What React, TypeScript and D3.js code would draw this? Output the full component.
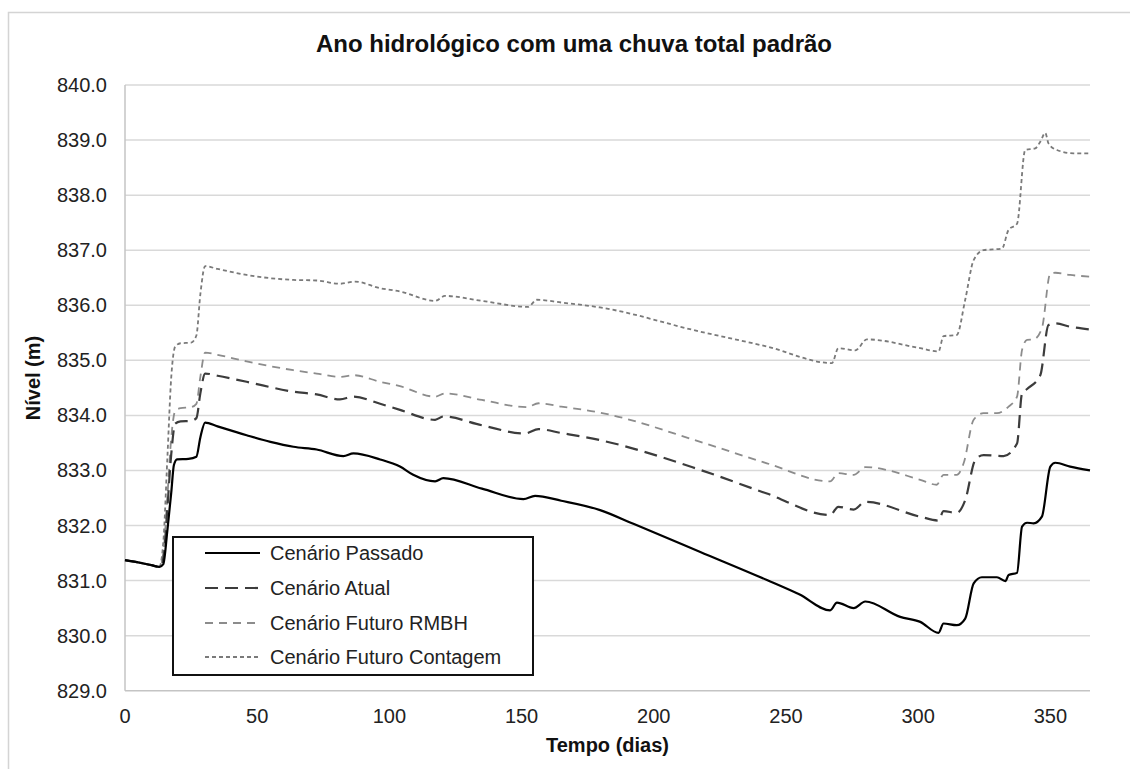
import React from "react";
import * as d3 from "d3";

const title = "Ano hidrológico com uma chuva total padrão";
const xTitle = "Tempo (dias)";
const yTitle = "Nível (m)";
const xTicks = [0, 50, 100, 150, 200, 250, 300, 350];
const yTicks = [829, 830, 831, 832, 833, 834, 835, 836, 837, 838, 839, 840];
const seriesNames = ["Cenário Passado", "Cenário Atual", "Cenário Futuro RMBH", "Cenário Futuro Contagem"];

const passado: [number, number][] = [
  [0, 831.37], [5, 831.33], [10, 831.28], [13, 831.25], [14.5, 831.3], [16, 831.9], [17.5, 832.6], [18.5, 833.1],
  [19.7, 833.2], [24, 833.21], [27, 833.25], [28.5, 833.6], [30.3, 833.87], [35, 833.8], [46, 833.64], [55, 833.52],
  [63.7, 833.43], [72.5, 833.38], [82.6, 833.26], [86.4, 833.31], [96.5, 833.2], [104, 833.07], [109, 832.92],
  [117.3, 832.8], [120.4, 832.86], [135, 832.67], [150.7, 832.48], [155.1, 832.54], [165, 832.45], [179.7, 832.28],
  [192.3, 832.03], [217.6, 831.52], [242.8, 831.01], [255, 830.75], [266.7, 830.46], [269.3, 830.6], [275.6, 830.5],
  [280, 830.62], [293.2, 830.34], [300.8, 830.25], [307.7, 830.05], [309.6, 830.22], [314.6, 830.19], [317.8, 830.31],
  [321, 830.95], [324.1, 831.06], [329.8, 831.06], [333, 830.99], [334.2, 831.1], [337.4, 831.14], [339.3, 831.98],
  [341.2, 832.05], [343.7, 832.04], [346.8, 832.16], [350, 833.07], [351.9, 833.14], [357.5, 833.07], [365, 833.0],
];

const atual: [number, number][] = [
  [0, 831.37], [5, 831.33], [10, 831.28], [13, 831.25], [14.5, 831.4], [16, 832.3], [17.5, 833.3], [19, 833.85],
  [21, 833.89], [25, 833.9], [27, 833.95], [28.5, 834.4], [30.3, 834.76], [35, 834.72], [46, 834.61], [63.7, 834.43],
  [72.5, 834.38], [81.3, 834.29], [86.4, 834.34], [96.5, 834.21], [104, 834.1], [117.3, 833.92], [120.4, 833.98],
  [135, 833.82], [151.3, 833.67], [156.4, 833.75], [165, 833.68], [179.7, 833.55], [217.6, 833.01], [242.8, 832.58],
  [266.7, 832.19], [269.8, 832.34], [275.6, 832.29], [280, 832.43], [300.8, 832.16], [307.7, 832.09], [309.6, 832.26],
  [314.6, 832.23], [317.8, 832.46], [321.6, 833.19], [324.7, 833.28], [332.3, 833.26], [337.4, 833.49], [339.3, 834.4],
  [341.2, 834.48], [346.2, 834.73], [349.3, 835.64], [351.9, 835.67], [357.5, 835.61], [365, 835.56],
];

const rmbh: [number, number][] = [
  [0, 831.37], [5, 831.33], [10, 831.28], [13, 831.25], [14.5, 831.5], [16, 832.5], [17.5, 833.6], [19, 834.08],
  [21, 834.13], [25, 834.15], [27, 834.21], [28.5, 834.7], [30.3, 835.14], [35, 835.1], [46, 834.98], [63.7, 834.82],
  [72.5, 834.76], [81.3, 834.7], [86.4, 834.73], [96.5, 834.61], [104, 834.53], [117.3, 834.34], [121, 834.4],
  [135, 834.28], [151.9, 834.15], [156.4, 834.22], [165, 834.16], [179.7, 834.05], [217.6, 833.52], [242.8, 833.13],
  [266.7, 832.8], [269.8, 832.95], [275.6, 832.92], [280, 833.06], [300.8, 832.83], [307, 832.74], [309.6, 832.92],
  [314.6, 832.92], [317.2, 833.13], [321, 833.92], [324.7, 834.04], [329.8, 834.04], [334.2, 834.16], [337.4, 834.34],
  [339.3, 835.19], [341.2, 835.37], [343.7, 835.38], [346.8, 835.58], [350, 836.58], [351.9, 836.59], [357.5, 836.55],
  [365, 836.52],
];

const contagem: [number, number][] = [
  [0, 831.37], [5, 831.33], [10, 831.28], [13, 831.25], [14.5, 831.7], [16, 833.2], [17.5, 834.7], [19, 835.25],
  [21, 835.31], [25, 835.32], [27, 835.45], [28.5, 836.2], [30.3, 836.71], [35, 836.66], [46, 836.55], [63.7, 836.46],
  [72.5, 836.45], [81.3, 836.39], [87, 836.43], [96.5, 836.31], [104, 836.25], [117.3, 836.08], [121, 836.17],
  [135, 836.08], [152.5, 835.97], [155.7, 836.1], [165, 836.05], [179.7, 835.96], [217.6, 835.52], [242.8, 835.25],
  [267.4, 834.95], [269.8, 835.22], [276.2, 835.18], [280.6, 835.38], [300.8, 835.22], [307.7, 835.16], [309.6, 835.44],
  [314.6, 835.46], [317.8, 836.1], [321, 836.82], [324.7, 837.0], [331.7, 837.03], [334.2, 837.37], [337.4, 837.48],
  [340.5, 838.82], [344.3, 838.85], [346.2, 838.97], [348.1, 839.13], [349.3, 838.94], [352.5, 838.82], [358.8, 838.76],
  [365, 838.76],
];

const FONT = "'Liberation Sans', Arial, Helvetica, sans-serif";

const styles = [
  { stroke: "#000000", width: 2.2, dash: "" },
  { stroke: "#3c3c3c", width: 2.2, dash: "13 7" },
  { stroke: "#8c8c8c", width: 1.8, dash: "8 6" },
  { stroke: "#7a7a7a", width: 1.8, dash: "4 3" },
];

export default function App() {
  const W = 1130;
  const H = 769;
  const left = 125;
  const right = 1090;
  const top = 85;
  const bottom = 690.7;

  const x = d3.scaleLinear().domain([0, 365]).range([left, right]);
  const y = d3.scaleLinear().domain([829, 840]).range([bottom, top]);
  const line = d3
    .line<[number, number]>()
    .x((d) => x(d[0]))
    .y((d) => y(d[1]))
    .curve(d3.curveMonotoneX);

  const data = [passado, atual, rmbh, contagem];
  const order = [3, 2, 1, 0];

  const legendRows = [553, 588, 623, 657];

  return (
    <svg
      width={W}
      height={H}
      style={{ position: "absolute", left: 0, top: 0, display: "block", background: "#fff" }}
      fontFamily={FONT}
    >
      <rect x={0} y={0} width={W} height={H} fill="#fff" />
      <rect x={8.5} y={12.5} width={W + 10} height={H + 10} fill="none" stroke="#d4d4d4" strokeWidth={1.5} />
      <text x={574} y={52} textAnchor="middle" fontSize={24} fontWeight="bold" fill="#111">
        {title}
      </text>

      {yTicks.map((t) => (
        <g key={t}>
          {t !== 829 && (
            <line x1={left} x2={right} y1={y(t)} y2={y(t)} stroke="#d9d9d9" strokeWidth={1.5} />
          )}
          <text x={107} y={y(t)} textAnchor="end" dominantBaseline="central" fontSize={20} fill="#222">
            {t.toFixed(1)}
          </text>
        </g>
      ))}
      <line x1={left} x2={left} y1={top} y2={bottom} stroke="#c4c4c4" strokeWidth={1.5} />
      <line x1={left} x2={right} y1={bottom} y2={bottom} stroke="#c4c4c4" strokeWidth={1.5} />

      {xTicks.map((t) => (
        <text key={t} x={x(t)} y={723} textAnchor="middle" fontSize={20} fill="#222">
          {t}
        </text>
      ))}

      <text x={x(182.5)} y={752} textAnchor="middle" fontSize={20} fontWeight="bold" fill="#111">
        {xTitle}
      </text>
      <text
        transform={`translate(40, 378) rotate(-90)`}
        textAnchor="middle"
        fontSize={20}
        fontWeight="bold"
        fill="#111"
      >
        {yTitle}
      </text>

      {order.map((i) => (
        <path
          key={i}
          d={line(data[i]) || ""}
          fill="none"
          stroke={styles[i].stroke}
          strokeWidth={styles[i].width}
          strokeDasharray={styles[i].dash}
          strokeLinejoin="round"
        />
      ))}

      <rect x={173} y={537} width={360} height={138} fill="#fff" stroke="#111" strokeWidth={2} />
      {seriesNames.map((name, i) => (
        <g key={name}>
          <line
            x1={205}
            x2={260}
            y1={legendRows[i]}
            y2={legendRows[i]}
            stroke={styles[i].stroke}
            strokeWidth={styles[i].width}
            strokeDasharray={styles[i].dash}
          />
          <text x={270} y={legendRows[i]} dominantBaseline="central" fontSize={20} fill="#222">
            {name}
          </text>
        </g>
      ))}
    </svg>
  );
}
